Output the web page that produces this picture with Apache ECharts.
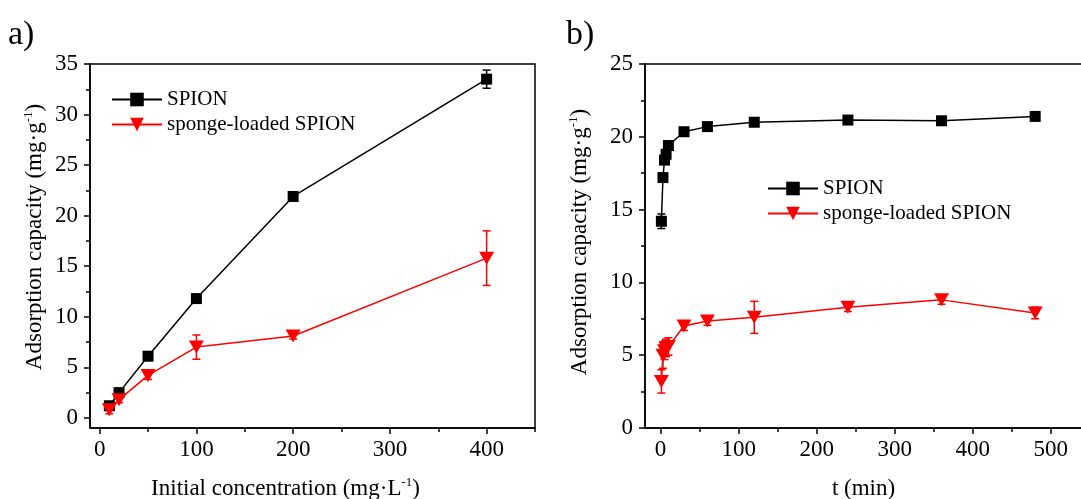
<!DOCTYPE html>
<html>
<head>
<meta charset="utf-8">
<script src="https://cdn.jsdelivr.net/npm/echarts@6/dist/echarts.min.js"></script>
<style>html,body{margin:0;padding:0;background:#fff;}#c{width:1081px;height:499px;}</style>
</head>
<body>
<div id="c"></div>
<script>
// Panel a: adsorption vs initial concentration
const concA = [10, 20, 50, 100, 200, 400];
const spionA = [1.2, 2.5, 6.1, 11.8, 21.9, 33.5];
const spionAErr = [0.4, 0.3, 0.3, 0.3, 0.3, 0.9];
const spongeA = [0.8, 1.8, 4.2, 7.0, 8.1, 15.8];
const spongeAErr = [0.4, 0.3, 0.4, 1.2, 0.3, 2.7];
// Panel b: adsorption vs time
const timeB = [1, 3, 5, 7, 10, 30, 60, 120, 240, 360, 480];
const spionB = [14.2, 17.2, 18.4, 18.8, 19.4, 20.35, 20.7, 21.0, 21.15, 21.1, 21.4];
const spionBErr = [0.5, 0.2, 0.2, 0.2, 0.2, 0.2, 0.2, 0.2, 0.2, 0.2, 0.2];
const spongeB = [3.2, 5.0, 5.3, 5.5, 5.6, 7.0, 7.35, 7.6, 8.3, 8.8, 7.9];
const spongeBErr = [0.8, 0.9, 0.6, 0.6, 0.6, 0.3, 0.3, 1.1, 0.3, 0.3, 0.4];
// tick labels
const xTicksA = [0, 100, 200, 300, 400];
const xMinorA = [50, 150, 250, 350, 450];
const yTicksA = [0, 5, 10, 15, 20, 25, 30, 35];
const yMinorA = [2.5, 7.5, 12.5, 17.5, 22.5, 27.5, 32.5];
const xTicksB = [0, 100, 200, 300, 400, 500];
const xMinorB = [50, 150, 250, 350, 450];
const yTicksB = [0, 5, 10, 15, 20, 25];
const yMinorB = [2.5, 7.5, 12.5, 17.5, 22.5];
const seriesNames = ['SPION', 'sponge-loaded SPION'];

const FONT = '"Liberation Serif", "Times New Roman", serif';
const BLACK = '#000000', RED = '#ff0000';

function zip(xs, ys) { return xs.map((x, i) => [x, ys[i]]); }
function zip3(xs, ys, es) { return xs.map((x, i) => [x, ys[i], es[i]]); }

function errRender(color) {
  return function (params, api) {
    const x = api.value(0), y = api.value(1), e = api.value(2);
    const t = api.coord([x, y + e]);
    const b = api.coord([x, y - e]);
    const w = 4;
    const st = { stroke: color, lineWidth: 1.5 };
    return {
      type: 'group',
      children: [
        { type: 'line', shape: { x1: t[0], y1: t[1], x2: b[0], y2: b[1] }, style: st },
        { type: 'line', shape: { x1: t[0] - w, y1: t[1], x2: t[0] + w, y2: t[1] }, style: st },
        { type: 'line', shape: { x1: b[0] - w, y1: b[1], x2: b[0] + w, y2: b[1] }, style: st }
      ]
    };
  };
}

const richTitle = {
  n: { fontSize: 23, fontFamily: FONT, color: BLACK, lineHeight: 26 },
  s: { fontSize: 13, fontFamily: FONT, color: BLACK, verticalAlign: 'top', lineHeight: 13 }
};

function mainX(grid, min, max, ticks, name, gap, pad) {
  return {
    type: 'value', gridIndex: grid, min: min, max: max, position: 'bottom',
    name: name, nameLocation: 'middle', nameGap: gap,
    nameTextStyle: { rich: richTitle, fontFamily: FONT, fontSize: 23, color: BLACK, padding: pad },
    axisLine: { show: true, onZero: false, lineStyle: { color: BLACK, width: 1.5 } },
    axisTick: { show: true, inside: false, length: 6, lineStyle: { color: BLACK, width: 1.5 }, customValues: ticks },
    axisLabel: { show: true, margin: 10, fontFamily: FONT, fontSize: 23, color: BLACK, customValues: ticks },
    splitLine: { show: false }
  };
}
function minorX(grid, min, max, ticks) {
  return {
    type: 'value', gridIndex: grid, min: min, max: max, position: 'bottom',
    axisLine: { show: false, onZero: false },
    axisTick: { show: true, inside: false, length: 4, lineStyle: { color: BLACK, width: 1.5 }, customValues: ticks },
    axisLabel: { show: false, customValues: ticks },
    splitLine: { show: false }
  };
}
function mainY(grid, min, max, ticks, name, gap, pad) {
  return {
    type: 'value', gridIndex: grid, min: min, max: max, position: 'left',
    name: name, nameLocation: 'middle', nameGap: gap, nameRotate: 90,
    nameTextStyle: { rich: richTitle, fontFamily: FONT, fontSize: 23, color: BLACK, padding: pad },
    axisLine: { show: true, onZero: false, lineStyle: { color: BLACK, width: 1.5 } },
    axisTick: { show: true, inside: false, length: 6, lineStyle: { color: BLACK, width: 1.5 }, customValues: ticks },
    axisLabel: { show: true, margin: 12, fontFamily: FONT, fontSize: 23, color: BLACK, customValues: ticks },
    splitLine: { show: false }
  };
}
function minorY(grid, min, max, ticks) {
  return {
    type: 'value', gridIndex: grid, min: min, max: max, position: 'left',
    axisLine: { show: false, onZero: false },
    axisTick: { show: true, inside: false, length: 4, lineStyle: { color: BLACK, width: 1.5 }, customValues: ticks },
    axisLabel: { show: false, customValues: ticks },
    splitLine: { show: false }
  };
}

function lineSeries(name, xi, yi, data, color, isTri) {
  return {
    type: 'line', name: name, xAxisIndex: xi, yAxisIndex: yi, data: data,
    symbol: isTri ? 'triangle' : 'rect',
    symbolSize: isTri ? [15, 13] : 11,
    symbolRotate: isTri ? 180 : 0,
    showAllSymbol: true,
    lineStyle: { color: color, width: 1.5 },
    itemStyle: { color: color, borderWidth: 0 },
    z: 3, animation: false
  };
}
function errSeries(xi, yi, data, color) {
  return {
    type: 'custom', name: 'err', xAxisIndex: xi, yAxisIndex: yi, data: data,
    renderItem: errRender(color), encode: { x: 0, y: 1 }, z: 2, silent: true, animation: false
  };
}

const chart = echarts.init(document.getElementById('c'), null, { renderer: 'canvas' });
chart.setOption({
  backgroundColor: '#ffffff',
  animation: false,
  grid: [
    { left: 90, top: 64, width: 445, height: 364, show: true, borderColor: BLACK, borderWidth: 1.5, backgroundColor: 'transparent', containLabel: false, outerBoundsMode: 'none' },
    { left: 645, top: 64, width: 437, height: 364, show: true, borderColor: BLACK, borderWidth: 1.5, backgroundColor: 'transparent', containLabel: false, outerBoundsMode: 'none' }
  ],
  xAxis: [
    mainX(0, -10, 450, xTicksA, '{n|Initial concentration (mg·L}{s|-1}{n|)}', 48, [0, 54, 0, 0]),
    minorX(0, -10, 450, xMinorA),
    mainX(1, -20, 540, xTicksB, '{n|t (min)}', 48, 0),
    minorX(1, -20, 540, xMinorB)
  ],
  yAxis: [
    mainY(0, -1, 35, yTicksA, '{n|Adsorption capacity (mg·g}{s|-1}{n|)}', 42, [0, 0, 0, 18]),
    minorY(0, -1, 35, yMinorA),
    mainY(1, 0, 25, yTicksB, '{n|Adsorption capacity (mg·g}{s|-1}{n|)}', 52, [0, 0, 0, 8]),
    minorY(1, 0, 25, yMinorB)
  ],
  legend: [
    {
      data: seriesNames, orient: 'vertical', left: 106, top: 84, itemWidth: 50, itemHeight: 17, itemGap: 4,
      textStyle: { fontFamily: FONT, fontSize: 21, color: BLACK }, selectedMode: false
    },
    {
      data: seriesNames, orient: 'vertical', left: 762, top: 173, itemWidth: 50, itemHeight: 17, itemGap: 4,
      textStyle: { fontFamily: FONT, fontSize: 21, color: BLACK }, selectedMode: false
    }
  ],
  graphic: [
    { type: 'text', left: 8, top: 18, style: { text: 'a)', font: '34px ' + FONT, fill: BLACK } },
    { type: 'text', left: 566, top: 18, style: { text: 'b)', font: '34px ' + FONT, fill: BLACK } }
  ],
  series: [
    errSeries(0, 0, zip3(concA, spionA, spionAErr), BLACK),
    errSeries(0, 0, zip3(concA, spongeA, spongeAErr), RED),
    lineSeries('SPION', 0, 0, zip(concA, spionA), BLACK, false),
    lineSeries('sponge-loaded SPION', 0, 0, zip(concA, spongeA), RED, true),
    errSeries(2, 2, zip3(timeB, spionB, spionBErr), BLACK),
    errSeries(2, 2, zip3(timeB, spongeB, spongeBErr), RED),
    lineSeries('SPION', 2, 2, zip(timeB, spionB), BLACK, false),
    lineSeries('sponge-loaded SPION', 2, 2, zip(timeB, spongeB), RED, true)
  ]
});
</script>
</body>
</html>
